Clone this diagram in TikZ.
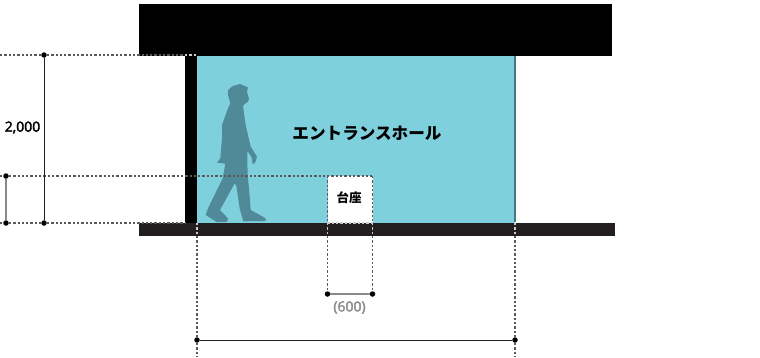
\documentclass[tikz,border=0pt]{standalone}
\usepackage{fontspec}
\setmainfont{Open Sans}
\newfontfamily\dimfont{Open Sans}[FakeBold=2.5]
\newfontfamily\jpfont{Noto Sans CJK JP}
\usepackage{tikz}
\definecolor{roomcyan}{HTML}{7FD0DD}
\definecolor{figteal}{HTML}{508A98}
\definecolor{floordark}{HTML}{231F20}
\definecolor{dimgrey}{HTML}{8A8A8A}
\definecolor{wallteal}{HTML}{4A7680}
\definecolor{guidegrey}{HTML}{5A5A5A}
\tikzset{
    dimdot/.style={circle,fill=black,inner sep=0pt,minimum size=5.5pt},
    dimline/.style={line width=1pt,draw=floordark},
    dimlinegrey/.style={line width=1.6pt,draw=dimgrey},
    guideline/.style={line width=1.1pt,draw=guidegrey,dash pattern=on 2.3pt off 2pt},
    guidewhite/.style={line width=1.1pt,draw=black!20,dash pattern=on 2.3pt off 2pt},
}
\begin{document}
\begin{tikzpicture}[x=1pt,y=-1pt]
    \useasboundingbox (0,0) rectangle (760,357);
    % room and structure
    \fill[roomcyan] (197,56) rectangle (515,223);
    \fill[black] (139,4) rectangle (612,56);
    \fill[black] (185,56) rectangle (197,223);
    \fill[floordark] (139,223) rectangle (615,236);
    \draw[wallteal,line width=1.4pt] (515,56) -- (515,222);
    % walking figure
    \fill[figteal,rounded corners=0.6pt,shift={(200,75)},scale=1/3]
        (98,33) -- (120,27) -- (144,37) -- (141,50) -- (147,72) -- (143,81) -- (135,86)
        -- (129,93) -- (132,115) -- (137,150) -- (152,215) -- (171,245) -- (166,262)
        -- (158,269) -- (155,247) -- (142,228) -- (142,260) -- (143,300) -- (147,340)
        -- (152,405) -- (197,430) -- (197,438) -- (130,439) -- (119,400) -- (109,332)
        -- (104,325) -- (60,405) -- (84,430) -- (81,441) -- (50,441) -- (17,420)
        -- (24,400) -- (68,310) -- (76,266) -- (51,263) -- (61,250) -- (66,190)
        -- (66,150) -- (84,100) -- (91,85) -- (84,60) -- (84,45) -- cycle;
    % pedestal
    \fill[white] (327.5,176) rectangle (372.5,223);
    % end points of the guide lines
    \coordinate (topleft) at (0,55);
    \coordinate (wallcorner) at (185,55);
    \coordinate (topright) at (197,55);
    \coordinate (midleft) at (0,176);
    \coordinate (midright) at (327.5,176);
    \coordinate (padright) at (372.5,176);
    \coordinate (lowleft) at (0,223);
    \coordinate (lowright) at (185,223);
    \coordinate (padbase) at (327.5,223);
    \coordinate (padbaser) at (372.5,223);
    \coordinate (padfloor) at (327.5,236);
    \coordinate (padfloorr) at (372.5,236);
    \coordinate (wallfoot) at (197,223);
    \coordinate (wallfloor) at (197,236);
    \coordinate (wallend) at (197,357);
    \coordinate (rightfoot) at (515,223);
    \coordinate (rightfloor) at (515,236);
    \coordinate (rightend) at (515,357);
    % dimension points
    \node[dimdot] (Ha) at (44,55) {};
    \node[dimdot] (Hb) at (44,223) {};
    \node[dimdot] (Pa) at (6,176) {};
    \node[dimdot] (Pb) at (6,223) {};
    \node[dimdot] (Wa) at (327.5,294) {};
    \node[dimdot] (Wb) at (372.5,294) {};
    \node[dimdot] (Ra) at (197,340) {};
    \node[dimdot] (Rb) at (515,340) {};
    % guides
    \draw[guideline] (topleft) -- (Ha);
    \draw[guideline] (Ha) -- (wallcorner);
    \draw[guidewhite] (wallcorner) -- (topright);
    \draw[guideline] (midleft) -- (Pa);
    \draw[guideline] (Pa) -- (midright) -- (padright);
    \draw[guideline] (lowleft) -- (Pb);
    \draw[guideline] (Pb) -- (Hb);
    \draw[guideline] (Hb) -- (lowright);
    \draw[guidewhite] (padbase) -- (padbaser);
    \draw[guideline] (midright) -- (padbase);
    \draw[guideline] (padright) -- (padbaser);
    \draw[guidewhite] (padbase) -- (padfloor);
    \draw[guidewhite] (padbaser) -- (padfloorr);
    \draw[guideline] (padfloor) -- (Wa);
    \draw[guideline] (padfloorr) -- (Wb);
    \draw[guidewhite] (wallfoot) -- (wallfloor);
    \draw[guidewhite] (rightfoot) -- (rightfloor);
    \draw[guideline] (wallfloor) -- (Ra);
    \draw[guideline] (Ra) -- (wallend);
    \draw[guideline] (rightfloor) -- (Rb);
    \draw[guideline] (Rb) -- (rightend);
    % dimensions
    \draw[dimline] (Ha) -- (Hb);
    \draw[dimlinegrey] (Pa) -- (Pb);
    \draw[dimlinegrey] (Wa) -- (Wb);
    \draw[dimline] (Ra) -- (Rb);
    % labels
    \node (heightlabel) at (22.5,127.5) {\dimfont\fontsize{14pt}{15pt}\selectfont 2,000};
    \node[text=dimgrey] (widthlabel) at (349.5,307.5) {\dimfont\fontsize{14pt}{15pt}\selectfont (600)};
    \node (hall) at (367,133) {\jpfont\fontsize{16.6pt}{18pt}\selectfont\bfseries エントランスホール};
    \node (pad) at (349,198) {\jpfont\fontsize{12.5pt}{14pt}\selectfont\bfseries 台座};
\end{tikzpicture}
\end{document}
